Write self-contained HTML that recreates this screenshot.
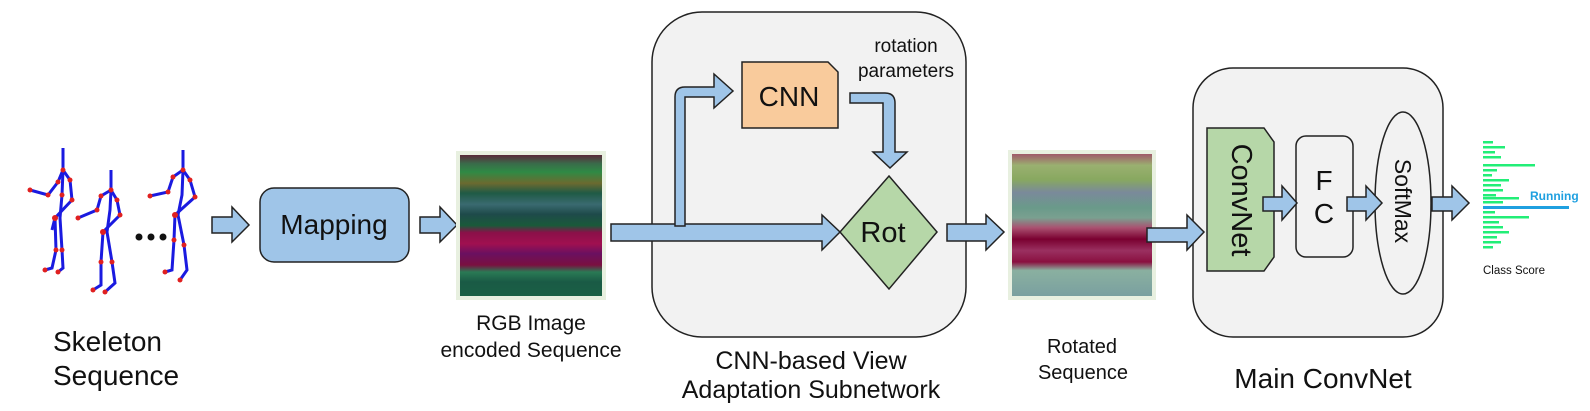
<!DOCTYPE html>
<html><head><meta charset="utf-8"><style>
html,body{margin:0;padding:0;background:#fff;width:1590px;height:411px;overflow:hidden}
svg{display:block}
text{font-family:"Liberation Sans",Arial,sans-serif;fill:#111}
</style></head><body>
<svg width="1590" height="411" viewBox="0 0 1590 411" xmlns="http://www.w3.org/2000/svg">
<defs>
<linearGradient id="rgb1" x1="0" y1="0" x2="0" y2="1">
<stop offset="0" stop-color="#5a2a3a"/><stop offset="0.06" stop-color="#3a6a4a"/>
<stop offset="0.12" stop-color="#2f8a45"/><stop offset="0.2" stop-color="#6b6a30"/>
<stop offset="0.27" stop-color="#1f5a45"/><stop offset="0.35" stop-color="#3a6a70"/>
<stop offset="0.42" stop-color="#1e4a4a"/><stop offset="0.5" stop-color="#1a5a3a"/>
<stop offset="0.55" stop-color="#8a1048"/><stop offset="0.63" stop-color="#a01050"/>
<stop offset="0.7" stop-color="#6a1060"/><stop offset="0.78" stop-color="#7a1040"/>
<stop offset="0.83" stop-color="#2a7a55"/><stop offset="0.9" stop-color="#1a5a45"/>
<stop offset="1" stop-color="#1a6045"/></linearGradient>
<linearGradient id="rgb2" x1="0" y1="0" x2="0" y2="1">
<stop offset="0" stop-color="#a05a6a"/><stop offset="0.08" stop-color="#9ab070"/>
<stop offset="0.18" stop-color="#88a860"/><stop offset="0.27" stop-color="#7a8a9a"/>
<stop offset="0.38" stop-color="#6a9a8a"/><stop offset="0.45" stop-color="#7aa090"/>
<stop offset="0.52" stop-color="#aa5070"/><stop offset="0.6" stop-color="#7a0030"/>
<stop offset="0.68" stop-color="#9a3060"/><stop offset="0.76" stop-color="#8a1040"/>
<stop offset="0.82" stop-color="#8ab0a0"/><stop offset="1" stop-color="#7aa0a0"/></linearGradient>
</defs>

<!-- Skeletons -->
<g stroke="#1a1ae0" stroke-width="3" fill="none">
<polyline points="63,148 63,170 58,182 48,195 30,190"/><polyline points="63,170 70,180 72,200 55,218 56,250 52,268 45,270"/><polyline points="63,170 62,195 60,218 62,250 63,268 58,272"/><polyline points="55,218 52,230"/>
<polyline points="111,170 111,190 101,196 97,210 78,218"/><polyline points="111,190 117,200 120,215 103,232 101,262 101,285 93,290"/><polyline points="111,190 110,210 107,232 112,262 115,283 105,292"/>
<polyline points="183,150 183,170 173,177 168,192 150,196"/><polyline points="183,170 190,180 195,197 175,215 174,240 172,270 165,272"/><polyline points="183,170 182,195 178,215 184,245 187,270 180,280"/>
</g>
<g fill="#e02020">
<circle cx="63" cy="170" r="2.5"/><circle cx="58" cy="182" r="2.5"/><circle cx="48" cy="195" r="2.5"/><circle cx="30" cy="190" r="2.5"/><circle cx="70" cy="180" r="2.5"/><circle cx="72" cy="200" r="2.5"/><circle cx="55" cy="218" r="3"/><circle cx="56" cy="250" r="2.5"/><circle cx="45" cy="270" r="2.5"/><circle cx="62" cy="250" r="2.5"/><circle cx="58" cy="272" r="2.5"/><circle cx="62" cy="195" r="2.5"/>
<circle cx="111" cy="190" r="2.5"/><circle cx="101" cy="196" r="2.5"/><circle cx="97" cy="210" r="2.5"/><circle cx="78" cy="218" r="2.5"/><circle cx="117" cy="200" r="2.5"/><circle cx="120" cy="215" r="2.5"/><circle cx="103" cy="232" r="3"/><circle cx="101" cy="262" r="2.5"/><circle cx="93" cy="290" r="2.5"/><circle cx="112" cy="262" r="2.5"/><circle cx="105" cy="292" r="2.5"/>
<circle cx="183" cy="170" r="2.5"/><circle cx="173" cy="177" r="2.5"/><circle cx="168" cy="192" r="2.5"/><circle cx="150" cy="196" r="2.5"/><circle cx="190" cy="180" r="2.5"/><circle cx="195" cy="197" r="2.5"/><circle cx="175" cy="215" r="3"/><circle cx="174" cy="240" r="2.5"/><circle cx="165" cy="272" r="2.5"/><circle cx="184" cy="245" r="2.5"/><circle cx="180" cy="280" r="2.5"/>
</g>
<g fill="#111"><circle cx="139" cy="237" r="3.5"/><circle cx="151" cy="237" r="3.5"/><circle cx="163" cy="237" r="3.5"/></g>

<g fill="#9fc5e8" stroke="#222" stroke-width="1.5" stroke-linejoin="miter">
<path d="M212,217 H232 V207 L249,225 L232,242 V233 H212 Z"/>
<path d="M420,217 H440 V207 L457,225 L440,242 V233 H420 Z"/>
</g>
<rect x="260" y="188" width="149" height="74" rx="14" fill="#9fc5e8" stroke="#222" stroke-width="1.5"/>
<text x="334" y="234" font-size="28" text-anchor="middle">Mapping</text>

<rect x="456" y="151" width="150" height="149" fill="#e8f0e0"/>
<rect x="460" y="155" width="142" height="141" fill="url(#rgb1)"/>

<!-- CNN panel -->
<rect x="652" y="12" width="314" height="325" rx="50" fill="#f2f2f2" stroke="#222" stroke-width="1.5"/>
<path d="M742,62 H828 L838,72 V128 H742 Z" fill="#f9cb9c" stroke="#222" stroke-width="1.5"/>
<text x="789" y="106" font-size="28" text-anchor="middle">CNN</text>
<text x="906" y="52" font-size="19" text-anchor="middle">rotation</text>
<text x="906" y="77" font-size="19" text-anchor="middle">parameters</text>
<g fill="#9fc5e8" stroke="#222" stroke-width="1.5">
<path d="M611,224 H822 V215 L840,232 L822,250 V241 H611 Z"/>
<path d="M675,226 V97 Q675,87 685,87 H714 V74 L733,91 L714,108 V97 H685 V226 Z"/>
<path d="M850,93 H885 Q895,93 895,103 V152 H907 L890,168 L873,152 H883 V103 H850 Z"/>
<path d="M947,224 H986 V215 L1004,232 L986,250 V241 H947 Z"/>
</g>
<path d="M889,176 L937,232 L889,289 L840,232 Z" fill="#b6d7a8" stroke="#222" stroke-width="1.5"/>
<text x="883" y="242" font-size="29" text-anchor="middle">Rot</text>

<rect x="1008" y="150" width="148" height="150" fill="#e8f0e0"/>
<rect x="1012" y="154" width="140" height="142" fill="url(#rgb2)"/>

<!-- Main ConvNet panel -->
<rect x="1193" y="68" width="250" height="269" rx="40" fill="#f2f2f2" stroke="#222" stroke-width="1.5"/>
<path d="M1207,128 H1264 L1274,142 V257 L1264,271 H1207 Z" fill="#b6d7a8" stroke="#222" stroke-width="1.5"/>
<text transform="translate(1232,200) rotate(90)" font-size="29" text-anchor="middle">ConvNet</text>
<rect x="1296" y="136" width="57" height="121" rx="10" fill="#f2f2f2" stroke="#222" stroke-width="1.5"/>
<text x="1324" y="190" font-size="28" text-anchor="middle">F</text>
<text x="1324" y="223" font-size="28" text-anchor="middle">C</text>
<ellipse cx="1403" cy="203" rx="28" ry="91" fill="#f2f2f2" stroke="#222" stroke-width="1.5"/>
<text transform="translate(1395,201) rotate(90)" font-size="23" text-anchor="middle">SoftMax</text>
<g fill="#9fc5e8" stroke="#222" stroke-width="1.5">
<path d="M1147,228 H1187 V215 L1204,232 L1187,250 V242 H1147 Z"/>
<path d="M1263,197 H1282 V186 L1297,203 L1282,220 V211 H1263 Z"/>
<path d="M1347,197 H1366 V186 L1382,203 L1366,220 V211 H1347 Z"/>
<path d="M1432,197 H1452 V186 L1469,203 L1452,220 V211 H1432 Z"/>
</g>
<g fill="#22ee77">
<rect x="1483" y="141" width="10" height="2.5"/><rect x="1483" y="146" width="22" height="2.5"/><rect x="1483" y="151" width="12" height="2.5"/><rect x="1483" y="156" width="18" height="2.5"/><rect x="1483" y="164" width="52" height="2.5"/><rect x="1483" y="169" width="14" height="2.5"/><rect x="1483" y="174" width="9" height="2.5"/><rect x="1483" y="179" width="26" height="2.5"/><rect x="1483" y="184" width="18" height="2.5"/><rect x="1483" y="189" width="20" height="2.5"/><rect x="1483" y="194" width="13" height="2.5"/><rect x="1483" y="197" width="36" height="2.5"/><rect x="1483" y="201" width="20" height="2.5"/>
<rect x="1483" y="211" width="12" height="2.5"/><rect x="1483" y="216" width="46" height="2.5"/><rect x="1483" y="221" width="16" height="2.5"/><rect x="1483" y="226" width="20" height="2.5"/><rect x="1483" y="231" width="26" height="2.5"/><rect x="1483" y="236" width="14" height="2.5"/><rect x="1483" y="241" width="18" height="2.5"/><rect x="1483" y="246" width="10" height="2.5"/>
</g>
<rect x="1483" y="206" width="86" height="3" fill="#1fa0e0"/>
<text x="1530" y="200" font-size="12" font-weight="bold" style="fill:#1fa0e0">Running</text>
<text x="1483" y="274" font-size="11.5">Class Score</text>

<!-- labels -->
<text x="53" y="351" font-size="28">Skeleton</text>
<text x="53" y="385" font-size="28">Sequence</text>
<text x="531" y="330" font-size="21" text-anchor="middle">RGB Image</text>
<text x="531" y="357" font-size="21" text-anchor="middle">encoded Sequence</text>
<text x="811" y="369" font-size="25" text-anchor="middle">CNN-based View</text>
<text x="811" y="398" font-size="25" text-anchor="middle">Adaptation Subnetwork</text>
<text x="1082" y="353" font-size="20" text-anchor="middle">Rotated</text>
<text x="1083" y="379" font-size="20" text-anchor="middle">Sequence</text>
<text x="1323" y="388" font-size="28" text-anchor="middle">Main ConvNet</text>
</svg>
</body></html>
